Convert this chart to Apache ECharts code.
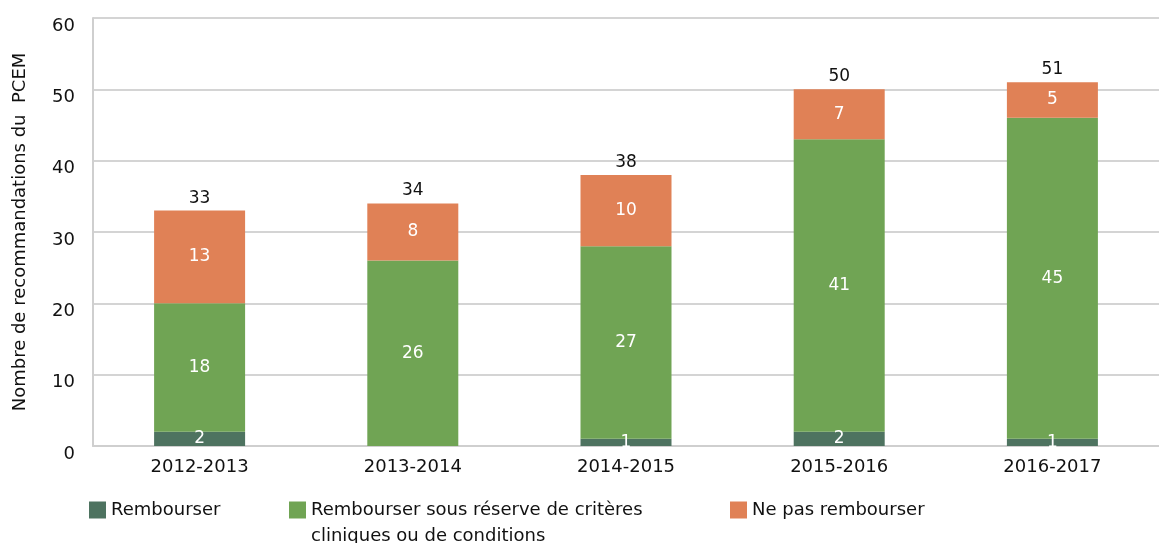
<!DOCTYPE html>
<html>
<head>
<meta charset="utf-8">
<script src="https://cdn.jsdelivr.net/npm/echarts@6/dist/echarts.min.js"></script>
<style>
  html, body { margin: 0; padding: 0; background: #fff; }
  #chart { width: 1159px; height: 543px; }
</style>
</head>
<body>
<div id="chart"></div>
<script>
// données
const categories = ["2012-2013", "2013-2014", "2014-2015", "2015-2016", "2016-2017"]
const rembourser = [2, 0, 1, 2, 1]
const sousReserve = [18, 26, 27, 41, 45]
const nePas = [13, 8, 10, 7, 5]
const yTicks = [0, 10, 20, 30, 40, 50, 60]

const names = [
  "Rembourser",
  "Rembourser sous réserve de critères\ncliniques ou de conditions",
  "Ne pas rembourser",
]
const colors = ["#4e7360", "#70a454", "#e08156"]

// totaux au-dessus des barres
const totals = categories.map((c, i) => rembourser[i] + sousReserve[i] + nePas[i])

const font = "DejaVu Sans"
const insideLabel = {
  show: true,
  position: "inside",
  color: "#fff",
  fontSize: 17,
  fontFamily: font,
  formatter: (p) => (p.value ? p.value : ""),
}

// une légende par élément, la 1re ligne seulement (la 2e ligne en graphic)
function legendAt(left, name) {
  return {
    left: left,
    top: 496,
    data: [name],
    itemWidth: 17,
    itemHeight: 17,
    icon: "rect",
    align: "left",
    formatter: (n) => n.split("\n")[0],
    textStyle: { fontSize: 18, fontFamily: font, color: "#111" },
  }
}

const myChart = echarts.init(document.getElementById("chart"))
const option = {
  animation: false,
  color: colors,
  grid: { left: 93, right: 0, top: 18, bottom: 97 },
  legend: [legendAt(84, names[0]), legendAt(284, names[1]), legendAt(725, names[2])],
  graphic: [
    {
      type: "text",
      left: 311,
      top: 527,
      style: { text: names[1].split("\n")[1], fontSize: 18, fontFamily: font, fill: "#111" },
    },
  ],
  xAxis: {
    type: "category",
    data: categories,
    axisLine: { lineStyle: { color: "#cfcfcf", width: 2 } },
    axisTick: { show: false },
    axisLabel: { fontSize: 18, fontFamily: font, color: "#111", margin: 12 },
  },
  yAxis: {
    type: "value",
    min: yTicks[0],
    max: yTicks[yTicks.length - 1],
    interval: 10,
    name: "Nombre de recommandations du  PCEM",
    nameLocation: "middle",
    nameGap: 64,
    nameTextStyle: { fontSize: 18, fontFamily: font, color: "#111" },
    axisLine: { show: true, lineStyle: { color: "#cfcfcf", width: 2 } },
    axisTick: { show: false },
    splitLine: { lineStyle: { color: "#d4d4d4", width: 2 } },
    axisLabel: {
      fontSize: 18,
      fontFamily: font,
      color: "#111",
      margin: 18,
      verticalAlign: "top",
      lineHeight: 16,
    },
  },
  series: [
    { name: names[0], type: "bar", stack: "t", barWidth: 91, data: rembourser, label: insideLabel },
    { name: names[1], type: "bar", stack: "t", data: sousReserve, label: insideLabel },
    { name: names[2], type: "bar", stack: "t", data: nePas, label: insideLabel },
    {
      name: "total",
      type: "bar",
      stack: "t",
      data: categories.map(() => 0),
      itemStyle: { color: "transparent" },
      label: {
        show: true,
        position: "top",
        distance: 4,
        color: "#111",
        fontSize: 17,
        fontFamily: font,
        formatter: (p) => totals[p.dataIndex],
      },
    },
  ],
}
myChart.setOption(option)
</script>
</body>
</html>
